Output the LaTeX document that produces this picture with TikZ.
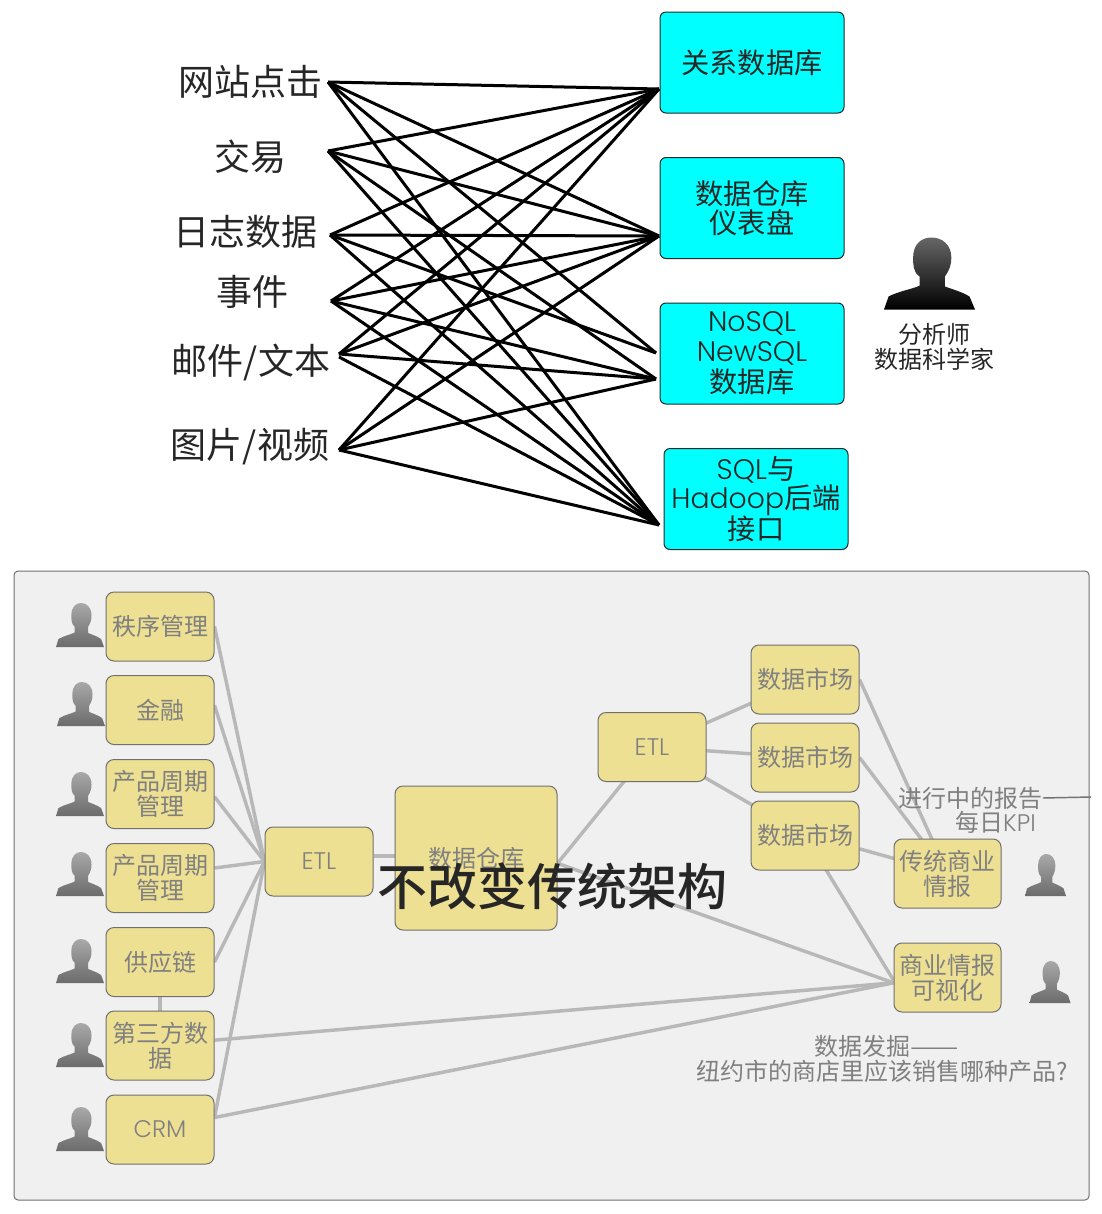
\documentclass[tikz,border=0pt]{standalone}
\usepackage{fontspec}
\setmainfont{Noto Sans CJK SC}
\newfontfamily\geo{Poppins Light}
\newfontfamily\heavy{Noto Sans CJK SC Medium}
\usetikzlibrary{backgrounds}

\definecolor{cyanbox}{HTML}{00FFFF}
\definecolor{sandbox}{HTML}{EEE092}
\definecolor{panelgrey}{HTML}{F0F0F0}
\definecolor{edgegrey}{HTML}{707070}
\definecolor{linkgrey}{HTML}{B8B8B8}
\definecolor{textgrey}{HTML}{808080}

\tikzset{
    person/.pic={
        \path[pic actions] (-50,0) -- (-45,18) .. controls (-35,25) and (-20,28) .. (-11,33) -- (-11,46)
            .. controls (-18,52) and (-18,62) .. (-18,72) .. controls (-18,92) and (-8,100) .. (2,100)
            .. controls (14,100) and (24,90) .. (24,72) .. controls (24,62) and (22,55) .. (17,46)
            -- (17,32) .. controls (25,28) and (35,25) .. (44,18) -- (50,0) -- cycle;
    }
}

\begin{document}
\begin{tikzpicture}[
    x=0.75pt, y=-0.75pt,
    source/.style={inner sep=0pt, text=black!85, font=\fontsize{27}{28}\selectfont},
    store/.style={draw=black!85, line width=0.75pt, fill=cyanbox, rounded corners=4.5pt, minimum width=138pt, minimum height=75.75pt,
        inner sep=0pt, align=center, text=black!85, font=\fontsize{21.2}{22}\selectfont},
    stage/.style={draw=edgegrey, line width=0.75pt, fill=sandbox, rounded corners=6pt, minimum width=81pt, minimum height=51.75pt,
        inner sep=0pt, align=center, text=textgrey, font=\fontsize{18}{18.75}\selectfont},
    note/.style={inner sep=0pt, align=center, text=textgrey, font=\fontsize{18}{18.75}\selectfont},
    wire/.style={line width=2.25pt, black},
    link/.style={line width=2.6pt, linkgrey},
    darkman/.style={top color=black!60, bottom color=black},
    greyman/.style={top color=black!34, bottom color=black!58}
    ]
    \useasboundingbox (0,0) rectangle (1102,1214);

    %Sources
    \node[source] at (250,82) (web) {网站点击};
    \node[source] at (250,157) (trade) {交易};
    \node[source] at (245,232) (logs) {日志数据};
    \node[source] at (252,292) (event) {事件};
    \node[source] at (251,362) (mail) {邮件/文本};
    \node[source] at (250,447) (media) {图片/视频};

    %Stores
    \node[store] at (752,62.5) (rdb) {关系数据库};
    \node[store] at (752,208) (dwh) {数据仓库\\仪表盘};
    \node[store] at (752,353.5) (nosql) {{\geo NoSQL}\\{\geo NewSQL}\\[1.5pt]数据库};
    \node[store] at (756,499) (hadoop) {{\geo SQL}与\\{\geo Hadoop}后端\\[-1.5pt]接口};

    %Wire ends
    \coordinate (webout) at (328,82);
    \coordinate (tradeout) at (328,151);
    \coordinate (logsout) at (330,235);
    \coordinate (eventout) at (331,301);
    \coordinate (mailout) at (339,354);
    \coordinate (mailoutb) at (339,357);
    \coordinate (mediaout) at (339,450);
    \coordinate (rdbin) at (659,89);
    \coordinate (dwhin) at (659,236);
    \coordinate (nosqlin) at (656,353);
    \coordinate (nosqlinb) at (656,379);
    \coordinate (hadoopin) at (659,525);

    %Wires
    \draw[wire] (webout) -- (rdbin);
    \draw[wire] (webout) -- (dwhin);
    \draw[wire] (webout) -- (nosqlin);
    \draw[wire] (webout) -- (hadoopin);

    \draw[wire] (tradeout) -- (rdbin);
    \draw[wire] (tradeout) -- (dwhin);
    \draw[wire] (tradeout) -- (nosqlinb);
    \draw[wire] (tradeout) -- (hadoopin);

    \draw[wire] (logsout) -- (rdbin);
    \draw[wire] (logsout) -- (dwhin);
    \draw[wire] (logsout) -- (nosqlin);
    \draw[wire] (logsout) -- (hadoopin);

    \draw[wire] (eventout) -- (rdbin);
    \draw[wire] (eventout) -- (dwhin);
    \draw[wire] (eventout) -- (nosqlinb);
    \draw[wire] (eventout) -- (hadoopin);

    \draw[wire] (mailout) -- (rdbin);
    \draw[wire] (mailout) -- (dwhin);
    \draw[wire] (mailout) -- (nosqlinb);
    \draw[wire] (mailoutb) -- (hadoopin);

    \draw[wire] (mediaout) -- (rdbin);
    \draw[wire] (mediaout) -- (dwhin);
    \draw[wire] (mediaout) -- (nosqlinb);
    \draw[wire] (mediaout) -- (hadoopin);

    %Analyst
    \pic[darkman, xscale=0.91, yscale=-0.72] at (929.5,309.5) {person};
    \node[note, text=black!85] at (934,347) (analyst) {分析师\\数据科学家};

    %Lower stages
    \node[stage] at (160,626.5) (order) {秩序管理};
    \node[stage] at (160,710) (finance) {金融};
    \node[stage] at (160,794) (plma) {产品周期\\管理};
    \node[stage] at (160,878) (plmb) {产品周期\\管理};
    \node[stage] at (160,962) (supply) {供应链};
    \node[stage] at (160,1045.5) (third) {第三方数\\据};
    \node[stage] at (160,1129.5) (crm) {\geo CRM};

    \node[stage] at (319,861.5) (etla) {\geo ETL};
    \node[stage, minimum width=121.5pt, minimum height=108pt] at (476,858) (store) {数据仓库};
    \node[stage] at (652,747) (etlb) {\geo ETL};

    \node[stage] at (805,679.5) (marta) {数据市场};
    \node[stage] at (805,757.5) (martb) {数据市场};
    \node[stage] at (805,835.5) (martc) {数据市场};

    \node[stage, minimum width=80.25pt] at (947.5,873.5) (bia) {传统商业\\情报};
    \node[stage, minimum width=80.25pt] at (947.5,977.5) (bib) {商业情报\\可视化};

    %Panel and links
    \begin{scope}[on background layer]
    \node[draw=edgegrey, line width=0.75pt, fill=panelgrey, rounded corners=3pt, minimum width=806.25pt, minimum height=471.75pt, inner sep=0pt] at (551.5,885.5) (panel) {};

    \draw[link] (order.east) -- (etla.west);
    \draw[link] ([yshift=3.5pt]finance.east) -- (etla.west);
    \draw[link] ([yshift=-2pt]plma.east) -- (etla.west);
    \draw[link] ([yshift=7.5pt]plmb.east) -- (etla.west);
    \draw[link] (supply.east) -- (etla.west);
    \draw[link] ([yshift=9pt]crm.east) -- (etla.west);
    \draw[link] (supply.south) -- (third.north);

    \draw[link] ([yshift=4pt]third.east) -- ([yshift=-4pt]bib.west);
    \draw[link] ([yshift=9pt]crm.east) -- ([yshift=-4pt]bib.west);

    \draw[link] (etla.east |- store.west) ++(0,-2) -- ([yshift=1.5pt]store.west);
    \draw[link] ([yshift=-4pt]store.east) -- (etlb.center);
    \draw[link] ([yshift=-4pt]store.east) -- ([yshift=-4pt]bib.west);

    \draw[link] (etlb.center) -- (marta.center);
    \draw[link] (etlb.center) -- (martb.center);
    \draw[link] (etlb.center) -- (martc.center);

    \draw[link] (marta.east) -- (bia.center);
    \draw[link] (martb.east) -- (bia.center);
    \draw[link] ([yshift=-10pt]martc.east) -- (bia.center);
    \draw[link] (martc.center) -- ([yshift=-2pt]bib.west);
    \end{scope}

    %People
    \pic[greyman, xscale=0.48, yscale=-0.44] at (80,647) {person};
    \pic[greyman, xscale=0.48, yscale=-0.44] at (81,726) {person};
    \pic[greyman, xscale=0.48, yscale=-0.44] at (80,816) {person};
    \pic[greyman, xscale=0.48, yscale=-0.44] at (80,896) {person};
    \pic[greyman, xscale=0.48, yscale=-0.44] at (80,983) {person};
    \pic[greyman, xscale=0.48, yscale=-0.44] at (80,1067) {person};
    \pic[greyman, xscale=0.48, yscale=-0.44] at (80,1151) {person};
    \pic[greyman, xscale=0.41, yscale=-0.42] at (1045.5,896) {person};
    \pic[greyman, xscale=0.41, yscale=-0.42] at (1050,1003) {person};

    %Notes
    \node[note] at (970.5,798) (report) {进行中的报告};
    \node[note] at (995.5,822) (kpi) {每日{\geo KPI}};
    \coordinate (reportend) at (1091,797);
    \draw[line width=1.1pt, black!55] (report.east) -- (reportend);
    \node[note] at (882,1059) (mining) {\hspace*{7.5pt}数据发掘{\addfontfeature{FakeStretch=1.2}——}\\纽约市的商店里应该销售哪种产品?};

    %Title
    \node[inner sep=0pt, text=black!85, font=\heavy\fontsize{37.5}{39}\selectfont] at (552,886) (title) {不改变传统架构};
\end{tikzpicture}
\end{document}
